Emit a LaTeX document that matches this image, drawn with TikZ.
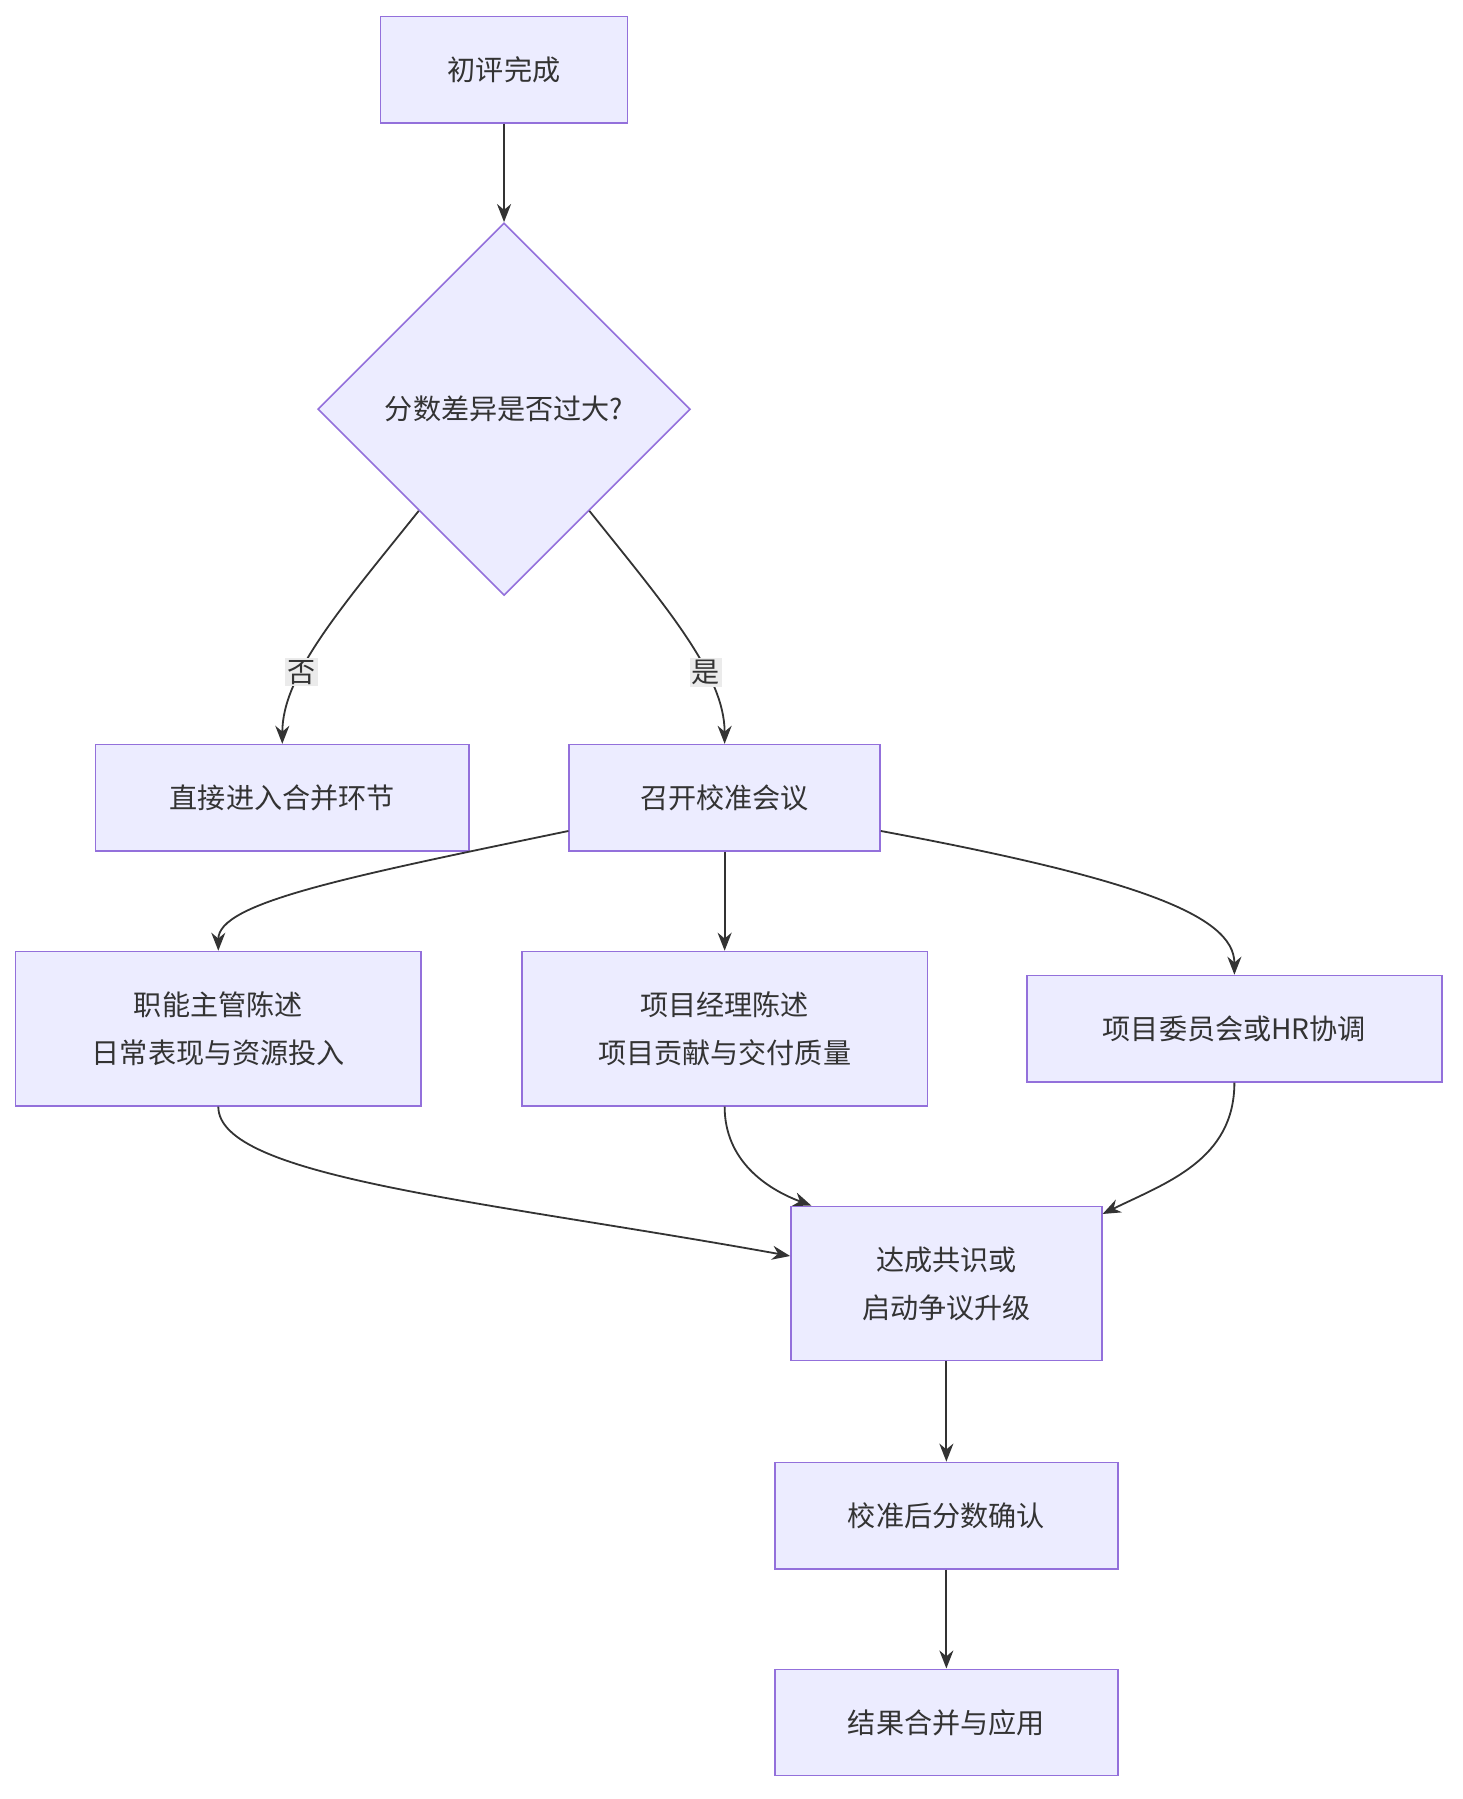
\documentclass[tikz,border=0pt]{standalone}
\usepackage{fontspec}
\setmainfont{Noto Sans CJK SC}
\usetikzlibrary{shapes.geometric,arrows.meta}
\definecolor{boxfill}{HTML}{ECECFF}
\definecolor{boxline}{HTML}{9370DB}
\definecolor{edge}{HTML}{333333}
\begin{document}
\begin{tikzpicture}[x=0.02cm,y=-0.02cm,
    box/.style ={rectangle,draw=boxline,fill=boxfill,line width=0.8pt,
                 minimum height=1.86cm,align=center,font=\fontsize{14}{24}\selectfont,text=edge},
    dec/.style ={diamond,draw=boxline,fill=boxfill,line width=0.8pt,aspect=1,
                 minimum width=6.52cm,minimum height=6.52cm,inner sep=0pt,
                 font=\fontsize{14}{24}\selectfont,text=edge},
    flow/.style={draw=edge,line width=0.9pt,-{Stealth[length=9pt,width=7pt]}},
    lbl/.style ={fill=black!8,inner sep=1pt,font=\fontsize{14}{18}\selectfont,text=edge}]

      \useasboundingbox (0,0) rectangle (1280,1574);
      \node[box, minimum width=4.32cm] (start) at (441,61)   {初评完成};
      \node[dec]                       (check) at (441,358)  {分数差异是否过大?};
      \node[box, minimum width=6.54cm] (direct) at (247,698) {直接进入合并环节};
      \node[box, minimum width=5.44cm] (meet)  at (634,698)  {召开校准会议};
      \node[box, minimum width=7.1cm, minimum height=2.7cm]  (func) at (191,900) {职能主管陈述\\日常表现与资源投入};
      \node[box, minimum width=7.1cm, minimum height=2.7cm]  (pm)   at (634,900) {项目经理陈述\\项目贡献与交付质量};
      \node[box, minimum width=7.26cm] (comm)  at (1080,900) {项目委员会或HR协调};
      \node[box, minimum width=5.44cm, minimum height=2.7cm] (agree) at (828,1123) {达成共识或\\启动争议升级};
      \node[box, minimum width=6cm]    (conf)  at (828,1326) {校准后分数确认};
      \node[box, minimum width=6cm]    (merge) at (828,1507) {结果合并与应用};

      \path[flow] (start) -- (check);
      \path[flow] (check.230) .. controls (300,530) and (247,590) .. node[lbl,pos=0.66] {否} (direct);
      \path[flow] (check.310) .. controls (582,530) and (634,590) .. node[lbl,pos=0.66] {是} (meet);
      \path[flow] (meet.192) .. controls (300,768) and (191,790) .. (func);
      \path[flow] (meet) -- (pm);
      \path[flow] (meet.-12) .. controls (990,768) and (1080,800) .. (comm);
      \path[flow] (func) .. controls (191,1030) and (420,1050) .. (agree.170);
      \path[flow] (pm) .. controls (634,1015) and (670,1040) .. (agree.150);
      \path[flow] (comm) .. controls (1080,1015) and (1020,1035) .. (agree.24);
      \path[flow] (agree) -- (conf);
      \path[flow] (conf) -- (merge);
\end{tikzpicture}
\end{document}
